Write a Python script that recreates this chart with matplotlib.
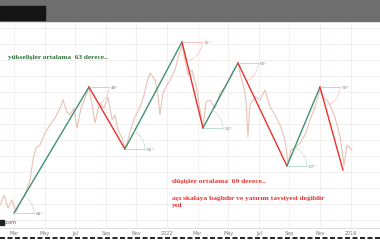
import numpy as np
import matplotlib
matplotlib.use('Agg')
import matplotlib.pyplot as plt
from matplotlib.patches import Rectangle

# months counted from Jan 2021 (0 = Jan 2021)
price_m = [1.09, 1.35, 1.61, 1.87, 2.13, 2.39, 2.72, 3.05, 3.24, 3.44, 3.70, 4.03,
           4.35, 4.68, 5.01, 5.20, 5.46, 5.66, 5.92, 6.12, 6.38, 6.64, 6.90, 7.10,
           7.29, 7.49, 7.62, 7.88, 8.14, 8.41, 8.60, 8.80, 9.06, 9.25, 9.45, 9.71,
           9.91, 10.24, 10.50, 10.69, 10.89, 11.22, 11.41, 11.54, 11.74, 12.00, 12.20,
           12.52, 12.78, 12.98, 13.18, 13.37, 13.63, 13.89, 14.16, 14.35, 14.55, 14.81,
           15.14, 15.46, 15.79, 16.05, 16.25, 16.44, 16.64, 16.84, 17.03, 17.16, 17.29,
           17.42, 17.75, 18.08, 18.41, 18.73, 19.06, 19.39, 19.71, 19.91, 20.10, 20.43,
           20.69, 21.02, 21.35, 21.67, 22.00, 22.20, 22.46, 22.65, 22.98, 23.31, 23.57,
           23.77, 24.09]
price_v = [25, 35, 22, 30, 18, 27, 35, 50, 70, 82, 85, 97,
           105, 112, 122, 130, 118, 115, 122, 102, 122, 132, 142, 125,
           107, 120, 127, 122, 133, 110, 115, 100, 92, 82, 90, 105,
           113, 123, 135, 148, 157, 150, 135, 115, 137, 145, 150,
           160, 175, 185, 170, 155, 160, 145, 120, 102, 128, 130,
           122, 137, 143, 150, 157, 162, 167, 152, 143, 130, 93,
           125, 133, 130, 140, 123, 115, 105, 90, 67, 80, 83,
           87, 95, 110, 123, 140, 132, 130, 125, 113, 93, 65,
           85, 80]

# zigzag pivots and their angle labels
pivot_m = [2.0, 6.90, 9.25, 12.98, 14.35, 16.64, 19.84, 22.0, 23.50]
pivot_v = [17, 143, 81, 188, 102, 167, 64, 143, 60]
angles = ['68°', '48°', '62°', '75°', '52°', '60°', '67°', '59°']

tick_m = [2, 4, 6, 8, 10, 12, 14, 16, 18, 20, 22, 24]
tick_labels = ['Mar', 'May', 'Jul', 'Sep', 'Nov', '2022',
               'Mar', 'May', 'Jul', 'Sep', 'Nov', '2016']

green = '#3f9272'
red = '#e8302c'

fig = plt.figure(figsize=(3.8, 2.4), dpi=100)
ax = fig.add_axes([0, 12 / 240, 1, 207 / 240])
ax.set_xlim(1.085, 1.085 + 380 / 15.3)
ax.set_ylim(2, 209)

ax.set_xticks(tick_m)
ax.set_xticklabels(tick_labels)
ax.tick_params(axis='x', length=0, labelsize=3.5, labelcolor='#777777', pad=2)
ax.set_yticks(np.arange(10, 210, 16))
ax.tick_params(axis='y', length=0, labelleft=False)
ax.grid(True, color='#f0eaea', lw=0.5)
ax.set_axisbelow(True)
for s in ['left', 'right', 'top']:
    ax.spines[s].set_visible(False)
ax.spines['bottom'].set_color('#d8d8d8')
ax.spines['bottom'].set_linewidth(0.6)

ax.plot(price_m, price_v, color='#e6bcae', lw=0.8, alpha=0.9)

for i in range(len(pivot_m) - 1):
    c = green if pivot_v[i + 1] > pivot_v[i] else red
    ax.plot(pivot_m[i:i + 2], pivot_v[i:i + 2], color=c, lw=1.0)

# angle markers drawn in pixel space
fig.canvas.draw()
tr = ax.transData
inv = tr.inverted()
for i, lab in enumerate(angles):
    p0 = tr.transform((pivot_m[i], pivot_v[i]))
    p1 = tr.transform((pivot_m[i + 1], pivot_v[i + 1]))
    d = (p1 - p0) / np.hypot(*(p1 - p0))
    L = 20
    h = p0 + np.array([L, 0])
    ts = np.linspace(0.0, np.arctan2(d[1], d[0]), 20)
    arc = np.column_stack([p0[0] + L * np.cos(ts), p0[1] + L * np.sin(ts)])
    mc = '#f2a9a6' if pivot_v[i + 1] < pivot_v[i] else '#9fcfc0'
    hd = inv.transform([p0, h])
    ad = inv.transform(arc)
    ax.plot(hd[:, 0], hd[:, 1], color=mc, lw=0.5)
    ax.plot(ad[:, 0], ad[:, 1], color=mc, lw=0.5, ls=(0, (2, 1)))
    lp = inv.transform(p0 + np.array([L + 2, -1]))
    ax.text(lp[0], lp[1], lab, fontsize=3.2, color='#888888', va='center', ha='left')

serif = ['Liberation Serif', 'DejaVu Serif']
fig.text(8 / 380, 1 - 58 / 240, 'yükselişler ortalama  63 derece..', fontsize=5.2,
         color='#2f6e3a', fontweight='bold', family=serif, va='center')
fig.text(172 / 380, 1 - 182 / 240, 'düşişler ortalama  69 derece..', fontsize=5.4,
         color=red, fontweight='bold', family=serif, va='center')
fig.text(172 / 380, 1 - 198 / 240, 'açı skalaya bağlıdır ve yatırım tavsiyesi değildir',
         fontsize=5.4, color=red, fontweight='bold', family=serif, va='center')
fig.text(172 / 380, 1 - 206 / 240, 'ytd', fontsize=5.4, color=red,
         fontweight='bold', family=serif, va='center')

# watermark remnant
fig.patches.append(Rectangle((0, 1 - 225 / 240), 4 / 380, 5 / 240,
                             transform=fig.transFigure, color='#222222'))
fig.text(4 / 380, 1 - 222.5 / 240, '.com', fontsize=3.5, color='#555555', va='center')

# header band (dithered text strip)
fig.patches.append(Rectangle((0, 1 - 21 / 240), 1, 21 / 240,
                             transform=fig.transFigure, color='#6e6e6e'))
fig.patches.append(Rectangle((0, 1 - 20 / 240), 45 / 380, 14 / 240,
                             transform=fig.transFigure, color='#151515'))
# bottom dashed strip
fig.add_artist(plt.Line2D([0, 1], [1 - 238 / 240, 1 - 238 / 240], color='black',
                          lw=1.2, ls=(0, (3, 1.5)), transform=fig.transFigure))

fig.savefig('out.png', dpi=100)
